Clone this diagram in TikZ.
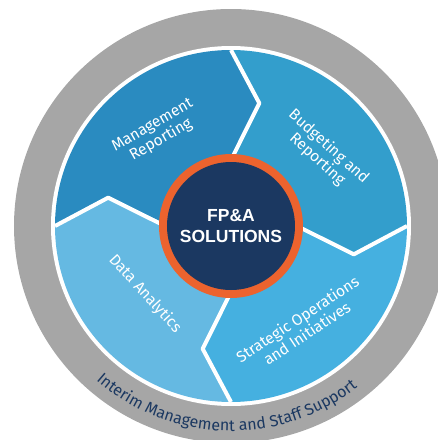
\documentclass[tikz,border=0pt]{standalone}
\usepackage{fontspec}
\setmainfont{Fira Sans}
\newfontfamily\hvbold{Liberation Sans}
\usetikzlibrary{decorations.text}
\definecolor{ringgray}{RGB}{166,166,166}
\definecolor{mgmt}{RGB}{42,139,192}
\definecolor{budg}{RGB}{51,158,204}
\definecolor{strat}{RGB}{69,176,224}
\definecolor{data}{RGB}{101,185,226}
\definecolor{navy}{RGB}{27,56,97}
\definecolor{fporange}{RGB}{236,99,46}

\begin{document}
\begin{tikzpicture}[x=1pt,y=1pt,
    seam/.style={white,line width=4pt,line join=round},
    lbl/.style={white,align=center,font=\fontsize{15.5}{17}\selectfont}]
  \useasboundingbox (-231,-214) rectangle (207,226);

  \fill[ringgray] (0,0) circle (217);
  \fill[white] (0,0) circle (180);

  % the four quarters
  \fill[mgmt]  (180:60) -- (167:126) -- (180:176) arc (180:90:176)
               -- (77:126) -- (90:60) arc (90:180:60) -- cycle;
  \fill[budg]  (90:60) -- (77:126) -- (90:176) arc (90:0:176)
               -- (-13:126) -- (0:60) arc (0:90:60) -- cycle;
  \fill[strat] (0:60) -- (-13:126) -- (0:176) arc (0:-90:176)
               -- (-103:126) -- (-90:60) arc (-90:0:60) -- cycle;
  \fill[data]  (-90:60) -- (-103:126) -- (-90:176) arc (-90:-180:176)
               -- (167:126) -- (180:60) arc (180:270:60) -- cycle;

  \foreach \a in {90,0,-90,180}
    \draw[seam] (\a:66) -- (\a-13:126) -- (\a:176);

  \fill[fporange] (0,0) circle (72);
  \node[circle,fill=navy,minimum size=128pt,inner sep=0pt,text=white,align=center,
        font=\hvbold\bfseries\fontsize{17.5}{21}\selectfont] (c) at (0,0) {FP\&A\\SOLUTIONS};

  \node[lbl,rotate=30]    (mr) at (-74,93)  {Management\\Reporting};
  \node[lbl,rotate=-42]   (br) at (92,73)   {Budgeting and\\Reporting};
  \node[lbl,rotate=-47.5] (da) at (-86,-68) {Data Analytics};
  \node[lbl,rotate=33.5]  (so) at (71,-100) {Strategic Operations\\and Initiatives};

  \path[decorate,decoration={text along path,text color=navy,text align=center,
        text={|\fontsize{16}{16}\selectfont|Interim Management and Staff Support}}]
    (220:205) arc (220:317:205);
\end{tikzpicture}
\end{document}
